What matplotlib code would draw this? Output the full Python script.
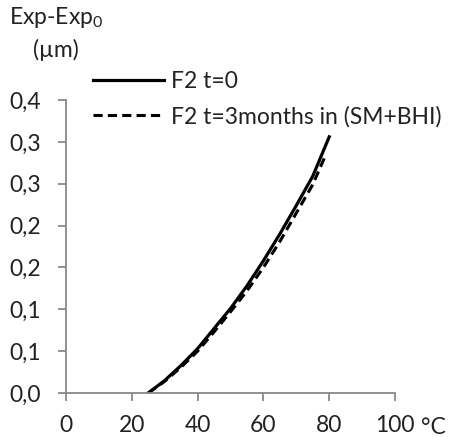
import matplotlib
matplotlib.use("Agg")
from matplotlib import pyplot as plt

plt.rcParams['font.family'] = ['Lato', 'DejaVu Sans']
plt.rcParams['mathtext.fontset'] = 'custom'
plt.rcParams['mathtext.rm'] = 'Lato'

# temperature (°C) and expansion (µm)
temp_t0 = [25, 30, 35, 40, 45, 50, 55, 60, 65, 70, 75, 80]
exp_t0 = [0, 0.015, 0.033, 0.053, 0.077, 0.101, 0.128, 0.158, 0.190, 0.224, 0.259, 0.306]
temp_3m = [25, 30, 35, 40, 45, 50, 55, 60, 65, 70, 75, 79]
exp_3m = [0, 0.014, 0.031, 0.050, 0.073, 0.097, 0.122, 0.150, 0.181, 0.215, 0.249, 0.285]

x_ticks = [0, 20, 40, 60, 80, 100]
y_ticks = [0, 0.05, 0.10, 0.15, 0.20, 0.25, 0.30, 0.35]
y_ticklabels = ["0,0", "0,1", "0,1", "0,2", "0,2", "0,3", "0,3", "0,4"]

fs = 16.5

fig = plt.figure(figsize=(4.55, 4.37), dpi=100)
ax = fig.add_axes([0.1451, 0.1007, 0.7231, 0.6705])

ax.plot(temp_t0, exp_t0, color="black", linewidth=2.3, label="F2 t=0")
ax.plot(temp_3m, exp_3m, color="black", linewidth=2.2, linestyle=(0, (3, 1.7)),
        label="F2 t=3months in (SM+BHI)")

ax.set_xlim(0, 100)
ax.set_ylim(0, 0.35)
ax.set_xticks(x_ticks)
ax.set_yticks(y_ticks)
ax.set_yticklabels(y_ticklabels)

for side in ["top", "right"]:
    ax.spines[side].set_visible(False)
for side in ["left", "bottom"]:
    ax.spines[side].set_color("#898989")
    ax.spines[side].set_linewidth(1.3)
ax.tick_params(axis="both", direction="out", length=6, width=1.3, color="#898989",
               labelsize=fs, labelcolor="#222222")
ax.tick_params(axis="y", pad=12)
ax.tick_params(axis="x", pad=10)

fig.text(433 / 455, 1 - 428 / 437, "°C", fontsize=fs, color="#222222", ha="center", va="center")
fig.text(56 / 455, 1 - 18 / 437, r"Exp-Exp$_\mathregular{0}$", fontsize=fs, color="#222222",
         ha="center", va="center")
fig.text(56 / 455, 1 - 50 / 437, "(µm)", fontsize=fs, color="#222222", ha="center", va="center")

fig.legend(loc="upper left", bbox_to_anchor=(93 / 455, 1 - 71 / 437), frameon=False,
           fontsize=fs, handlelength=3.1, handletextpad=0.3, borderpad=0, borderaxespad=0,
           labelspacing=0.6, labelcolor="#222222")

plt.savefig("out.png", dpi=100)
